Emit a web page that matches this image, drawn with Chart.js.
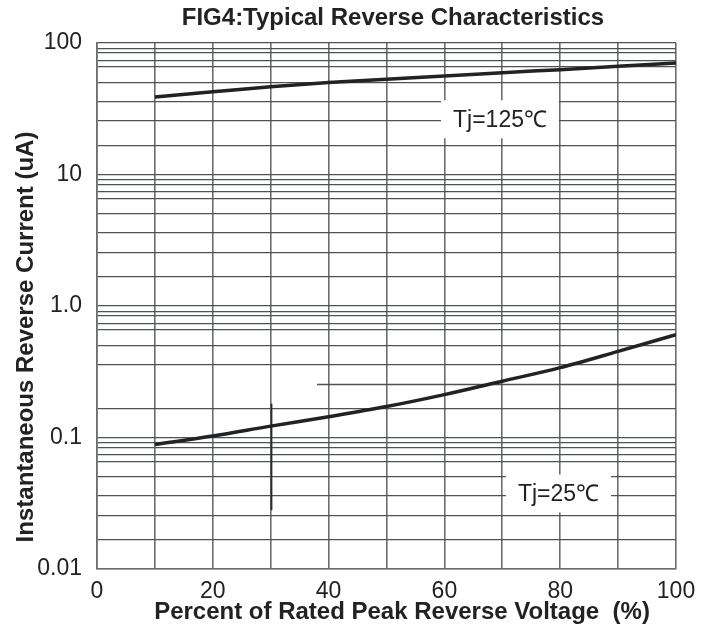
<!DOCTYPE html>
<html>
<head>
<meta charset="utf-8">
<script src="https://cdn.jsdelivr.net/npm/chart.js@4.4.0/dist/chart.umd.min.js"></script>
<style>
  html, body { margin: 0; padding: 0; background: #fff; }
  #wrap { width: 717px; height: 635px; position: relative; }
</style>
</head>
<body>
<div id="wrap"><canvas id="grafico"></canvas></div>
<script>
/* ===================== DATOS ===================== */

const voltagePct = [10, 20, 30, 40, 50, 60, 70, 80, 90, 100];
const current125 = [38.8, 42.5, 46.5, 50, 53, 56, 59.5, 62.7, 66.5, 70.5];
const current25 = [0.0885, 0.1025, 0.122, 0.144, 0.172, 0.212, 0.268, 0.34, 0.452, 0.605];

// lineas horizontales de la cuadricula (como en la hoja original, no exactamente log)
const decades = [0.01, 0.1, 1, 10];
const decadeSteps = [1, 1.67, 2.56, 3.6, 5.0, 6.6, 7.4, 8.4, 9.1];
const yTickLabels = { 0.01: "0.01", 0.1: "0.1", 1: "1.0", 10: "10", 100: "100" };
const xTickLabels = ["0", "20", "40", "60", "80", "100"];

const curveLabels = [
  { text: "Tj=125\u2103", x: 69.6, y: 26.3 },
  { text: "Tj=25\u2103", x: 79.7, y: 0.0375 }
];

// trazos sueltos de la hoja original
const partialHLines = [{ y: 0.256, x0: 38, x1: 100 }];
const darkVLines = [{ x: 30, y0: 0.181, y1: 0.028 }];

const chartTitle = "FIG4:Typical Reverse Characteristics";
const xTitle = "Percent of Rated Peak Reverse Voltage  (%)";
const yTitle = "Instantaneous Reverse Current (uA)";

/* ===================== ESTILO ===================== */

const FONT = "'Liberation Sans', Arial, sans-serif";
const GRID = "#4e5156";
const VGRID = "#6a6d72";
const INK = "#222";

const yGridValues = [];
decades.forEach(d => decadeSteps.forEach(s => yGridValues.push(+(d * s).toPrecision(4))));
yGridValues.push(100);
const hiddenGrid = partialHLines.map(p => p.y);

/* ===================== PLUGINS ===================== */

const extrasHoja = {
  id: "extrasHoja",
  beforeDatasetsDraw(chart) {
    const { ctx, scales: { x, y } } = chart;
    ctx.save();

    ctx.strokeStyle = GRID;
    ctx.lineWidth = 1.3;
    partialHLines.forEach(p => {
      const py = Math.round(y.getPixelForValue(p.y)) + 0.5;
      ctx.beginPath();
      ctx.moveTo(x.getPixelForValue(p.x0), py);
      ctx.lineTo(x.getPixelForValue(p.x1), py);
      ctx.stroke();
    });
    ctx.strokeStyle = "#2a2c30";
    ctx.lineWidth = 1.8;
    darkVLines.forEach(p => {
      const px = Math.round(x.getPixelForValue(p.x)) + 0.5;
      ctx.beginPath();
      ctx.moveTo(px, y.getPixelForValue(p.y0));
      ctx.lineTo(px, y.getPixelForValue(p.y1));
      ctx.stroke();
    });

    ctx.font = "23px " + FONT;
    ctx.textAlign = "center";
    ctx.textBaseline = "middle";
    curveLabels.forEach(l => {
      const px = x.getPixelForValue(l.x);
      const py = y.getPixelForValue(l.y);
      const w = ctx.measureText(l.text).width + 24;
      const h = 38;
      ctx.fillStyle = "#fff";
      ctx.fillRect(px - w / 2, py - h / 2, w, h);
      ctx.fillStyle = INK;
      ctx.fillText(l.text, px, py + 1);
    });
    ctx.restore();
  },
  afterDraw(chart) {
    const { ctx, chartArea: a } = chart;
    ctx.save();
    ctx.fillStyle = INK;
    ctx.font = "bold 24px " + FONT;
    ctx.textAlign = "center";
    ctx.textBaseline = "middle";
    ctx.fillText(chartTitle, a.left + 296, a.top - 25);
    ctx.fillText(xTitle, a.left + 305, a.bottom + 43);
    ctx.translate(26, a.top + 294);
    ctx.rotate(-Math.PI / 2);
    ctx.fillText(yTitle, 0, 0);
    ctx.restore();
  }
};

/* ===================== GRAFICO ===================== */

new Chart(document.getElementById("grafico"), {
  type: "line",
  data: {
    labels: voltagePct,
    datasets: [
      { label: "Tj=125", data: voltagePct.map((v, i) => ({ x: v, y: current125[i] })) },
      { label: "Tj=25", data: voltagePct.map((v, i) => ({ x: v, y: current25[i] })) }
    ]
  },
  options: {
    responsive: true,
    maintainAspectRatio: false,
    animation: false,
    devicePixelRatio: 1,
    layout: { padding: { left: 0, right: 41, top: 43, bottom: 0 } },
    elements: {
      line: { borderColor: INK, borderWidth: 3.5, tension: 0.3, cubicInterpolationMode: "monotone", fill: false },
      point: { radius: 0 }
    },
    plugins: {
      legend: { display: false },
      tooltip: { enabled: false },
      title: { display: false }
    },
    scales: {
      x: {
        type: "linear",
        min: 0,
        max: 100,
        afterFit: s => { s.height = 66; },
        border: { display: true, color: VGRID, width: 1.6 },
        grid: { color: VGRID, lineWidth: 1.6, drawTicks: false },
        ticks: {
          stepSize: 10,
          padding: 9,
          color: INK,
          font: { family: FONT, size: 23 },
          maxRotation: 0,
          autoSkip: false,
          callback: v => (v % 20 === 0 ? xTickLabels[v / 20] : "")
        }
      },
      y: {
        type: "logarithmic",
        min: 0.01,
        max: 100,
        afterFit: s => { s.width = 97; },
        afterBuildTicks: s => { s.ticks = yGridValues.map(v => ({ value: v })); },
        border: { display: true, color: VGRID, width: 1.6 },
        grid: {
          color: c => (hiddenGrid.includes(c.tick?.value) ? "rgba(0,0,0,0)" : GRID),
          lineWidth: 1.3,
          drawTicks: false
        },
        ticks: {
          padding: 15,
          color: INK,
          font: { family: FONT, size: 23 },
          autoSkip: false,
          callback: v => yTickLabels[v] ?? ""
        }
      }
    }
  },
  plugins: [extrasHoja]
});
</script>
</body>
</html>
